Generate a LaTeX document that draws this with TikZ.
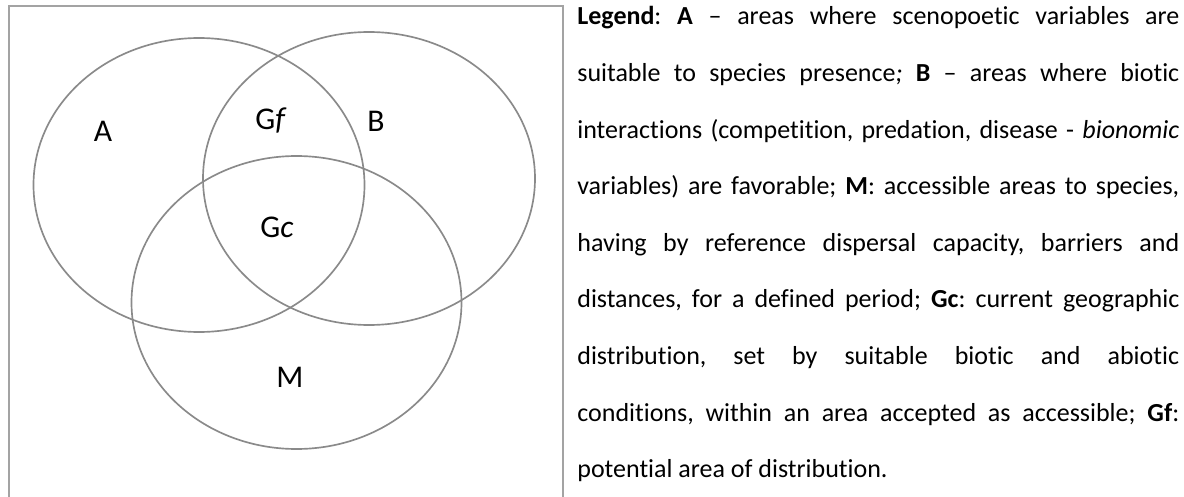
\documentclass[tikz,border=0pt]{standalone}
\usepackage{fontspec}
\setmainfont{Carlito}[Ligatures=NoCommon]
\usepackage{xcolor}
\definecolor{ringGray}{HTML}{8A8A8A}
\definecolor{frameGray}{HTML}{A3A3A3}
\usetikzlibrary{positioning}
\frenchspacing

\begin{document}
\begin{tikzpicture}[x=0.02cm, y=-0.02cm,
    every node/.style={font=\fontsize{18}{18}\selectfont},
    ring/.style={draw=ringGray, line width=0.95pt},
    frame/.style={draw=frameGray, line width=1.2pt},
    lbl/.style={inner sep=0pt},
    legendtxt/.style={anchor=base west, inner sep=0pt, text width=12.04cm,
      align=justify, font=\fontsize{14.8}{32.2}\selectfont}]
  \useasboundingbox (0,0) rectangle (1184,497);
  % Diagram
  \draw[frame] (9,6) rectangle (563,510);
  \draw[ring] (199,185) ellipse (165.5 and 147);
  \draw[ring] (369,178.5) ellipse (166 and 146.5);
  \draw[ring] (296.5,302.5) ellipse (165 and 146.5);
  \node[lbl] (labA) at (103,131) {A};
  \node[lbl] (labGf) at (271,121) {G\textit{f}};
  \node[lbl] (labB) at (376,121) {B};
  \node[lbl] (labGc) at (277,227) {G\textit{c}};
  \node[lbl] (labM) at (290,377) {M};
  % Legend
  \node[legendtxt] (legendText) at (577,25) {\frenchspacing\textbf{Legend}: \textbf{A} – areas where scenopoetic variables are\linebreak
    suitable to species presence\textit{;} \textbf{B} – areas where biotic\linebreak
    interactions (competition, predation, disease - \textit{bionomic}\linebreak
    variables) are favorable; \textbf{M}: accessible areas to species,\linebreak
    having by reference dispersal capacity, barriers and\linebreak
    distances, for a defined period; \textbf{Gc}: current geographic\linebreak
    distribution, set by suitable biotic and abiotic\linebreak
    conditions, within an area accepted as accessible; \textbf{Gf}:\linebreak
    potential area of distribution.};
\end{tikzpicture}
\end{document}
